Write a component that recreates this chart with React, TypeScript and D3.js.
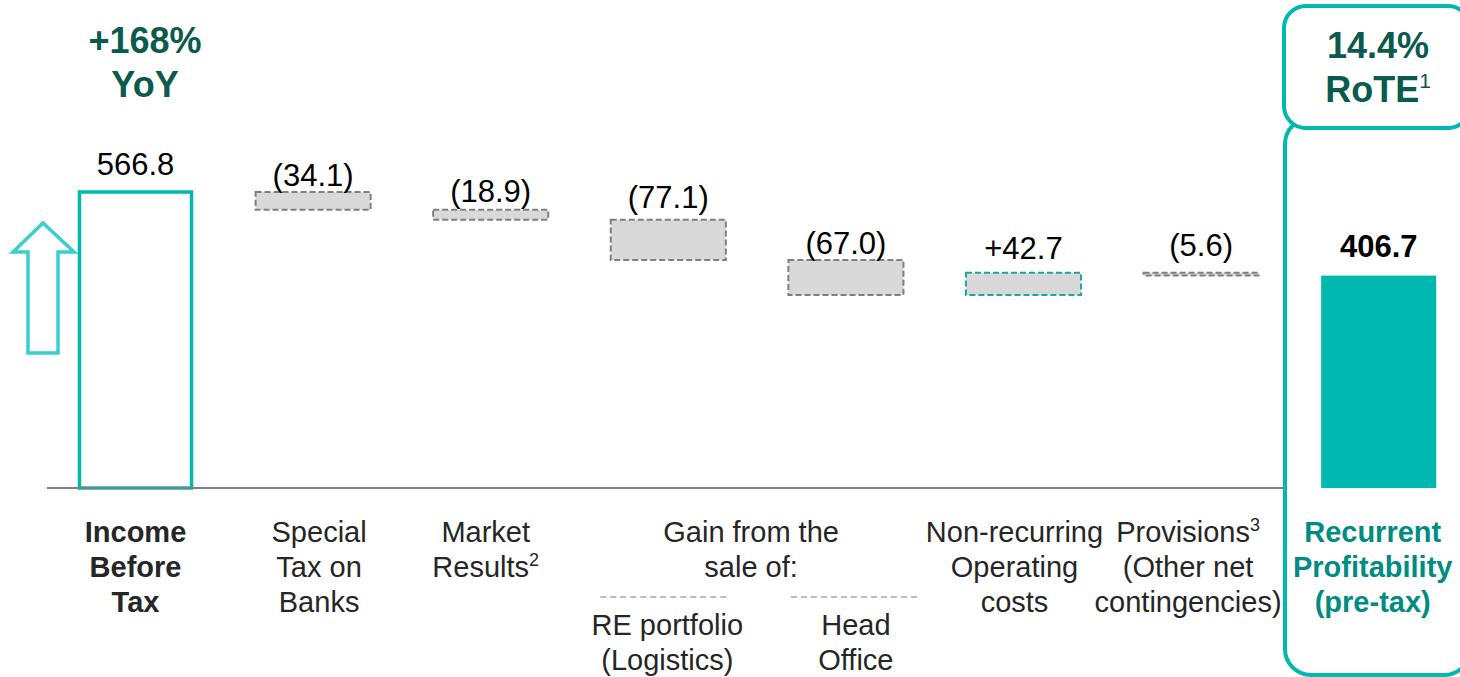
import * as d3 from "d3";

// data
const categories = [
  "Income Before Tax",
  "Special Tax on Banks",
  "Market Results",
  "RE portfolio (Logistics)",
  "Head Office",
  "Non-recurring Operating costs",
  "Provisions (Other net contingencies)",
  "Recurrent Profitability (pre-tax)",
];
const values = [566.8, -34.1, -18.9, -77.1, -67.0, 42.7, -5.6, 406.7];
const isTotal = [true, false, false, false, false, false, false, true];
const categoryLines = [
  ["Income", "Before", "Tax"],
  ["Special", "Tax on", "Banks"],
  ["Market", "Results"],
  ["RE portfolio", "(Logistics)"],
  ["Head", "Office"],
  ["Non-recurring", "Operating", "costs"],
  ["Provisions", "(Other net", "contingencies)"],
  ["Recurrent", "Profitability", "(pre-tax)"],
];
// [line index, footnote mark]
const footnotes: ([number, string] | null)[] = [null, null, [1, "2"], null, null, null, [0, "3"], null];
const groupHeader = ["Gain from the", "sale of:"];
const groupMembers = [3, 4];
const yoyLines = ["+168%", "YoY"];
const roteLines = ["14.4%", "RoTE"];
const roteNote = "1";

// layout
const W = 1460;
const H = 677;
const baseY = 488;
const font = "'Liberation Sans', Arial, sans-serif";
const teal = "#00B8B0";
const darkGreen = "#0B5A4E";
const labelLift = [17, 6, 8, 12, 6, 14, 17, 19];
const catNudge = [0, 6, -5, -1, 10, -9, -13, -6];

const fmt = (v: number, total: boolean) =>
  total ? v.toFixed(1) : v < 0 ? `(${Math.abs(v).toFixed(1)})` : `+${v.toFixed(1)}`;

export default function App() {
  const x = d3
    .scaleBand<string>()
    .domain(categories)
    .range([46.7, 1467.5])
    .paddingInner(0.352)
    .paddingOuter(0.176);
  const y = d3.scaleLinear().domain([0, 566.8]).range([baseY, 192]);

  // waterfall steps
  let run = 0;
  const bars = categories.map((c, i) => {
    const v = values[i];
    let lo: number, hi: number;
    if (isTotal[i]) {
      lo = 0;
      hi = v;
      run = v;
    } else {
      const next = run + v;
      lo = Math.min(run, next);
      hi = Math.max(run, next);
      run = next;
    }
    return { c, i, v, lo, hi, x0: x(c)!, cx: x(c)! + x.bandwidth() / 2 };
  });

  const bw = x.bandwidth();
  const groupCx = d3.mean(groupMembers.map((i) => bars[i].cx))! - 6;

  return (
    <svg
      width={W}
      height={H}
      style={{ position: "absolute", left: 0, top: 0, display: "block", background: "#fff" }}
      fontFamily={font}
    >
      {/* right frame */}
      <rect x={1285} y={118} width={185} height={557} rx={26} fill="none" stroke={teal} strokeWidth={4} />
      <rect x={1284} y={6} width={186} height={122} rx={22} fill="#fff" stroke={teal} strokeWidth={4} />

      {/* headline texts */}
      {yoyLines.map((t, k) => (
        <text key={t} x={145} y={53 + k * 44} textAnchor="middle" fontSize={36} fontWeight="bold" fill={darkGreen}>
          {t}
        </text>
      ))}
      {roteLines.map((t, k) => (
        <text key={t} x={1378} y={58 + k * 44} textAnchor="middle" fontSize={36} fontWeight="bold" fill={darkGreen}>
          {t}
          {k === 1 && (
            <tspan fontSize={21} fontWeight="normal" dy={-14}>
              {roteNote}
            </tspan>
          )}
        </text>
      ))}

      {/* up arrow */}
      <path
        d="M28,353 L58,353 L58,252 L74,252 L43,223 L13,252 L28,252 Z"
        fill="#fff"
        stroke="#3ACFCF"
        strokeWidth={3.5}
      />

      {/* bars */}
      {bars.map((b) => {
        const top = y(b.hi);
        const h = Math.max(y(b.lo) - top, 2);
        if (isTotal[b.i] && b.i === 0)
          return (
            <rect key={b.c} x={b.x0 + 1.5} y={top} width={bw - 3} height={h} fill="#fff" stroke={teal} strokeWidth={3.5} />
          );
        if (isTotal[b.i]) return <rect key={b.c} x={b.x0} y={top} width={bw} height={h} fill={teal} />;
        return (
          <rect
            key={b.c}
            x={b.x0}
            y={top}
            width={bw}
            height={h}
            fill="#D9D9D9"
            stroke={b.v > 0 ? "#1AA89E" : "#7F7F7F"}
            strokeWidth={2}
            strokeDasharray="6 3"
          />
        );
      })}

      {/* axis line */}
      <line x1={47} x2={1285} y1={baseY} y2={baseY} stroke="#7F7F7F" strokeWidth={2} />

      {/* value labels */}
      {bars.map((b) => (
        <text
          key={b.c}
          x={b.cx}
          y={y(b.hi) - labelLift[b.i]}
          textAnchor="middle"
          fontSize={31}
          fontWeight={b.i === bars.length - 1 ? "bold" : "normal"}
          fill="#000"
        >
          {fmt(b.v, isTotal[b.i])}
        </text>
      ))}

      {/* group header */}
      {groupHeader.map((t, k) => (
        <text key={t} x={groupCx} y={542 + k * 35} textAnchor="middle" fontSize={29} fill="#262626">
          {t}
        </text>
      ))}
      {groupMembers.map((i) => (
        <line
          key={i}
          x1={bars[i].cx - 64 + (i === 4 ? 9 : -4)}
          x2={bars[i].cx + 64 + (i === 4 ? 9 : -4)}
          y1={597}
          y2={597}
          stroke="#A6A6A6"
          strokeWidth={1.5}
          strokeDasharray="6 4"
        />
      ))}

      {/* category labels */}
      {bars.map((b) => {
        const inGroup = groupMembers.includes(b.i);
        const y0 = inGroup ? 635 : 542;
        const first = b.i === 0;
        const last = b.i === bars.length - 1;
        const note = footnotes[b.i];
        return categoryLines[b.i].map((t, k) => (
          <text
            key={b.c + k}
            x={b.cx + catNudge[b.i]}
            y={y0 + k * 35}
            textAnchor="middle"
            fontSize={29}
            fontWeight={first || last ? "bold" : "normal"}
            fill={last ? "#008C83" : "#262626"}
          >
            {t}
            {note && note[0] === k && (
              <tspan fontSize={18} dy={-11}>
                {note[1]}
              </tspan>
            )}
          </text>
        ));
      })}
    </svg>
  );
}
